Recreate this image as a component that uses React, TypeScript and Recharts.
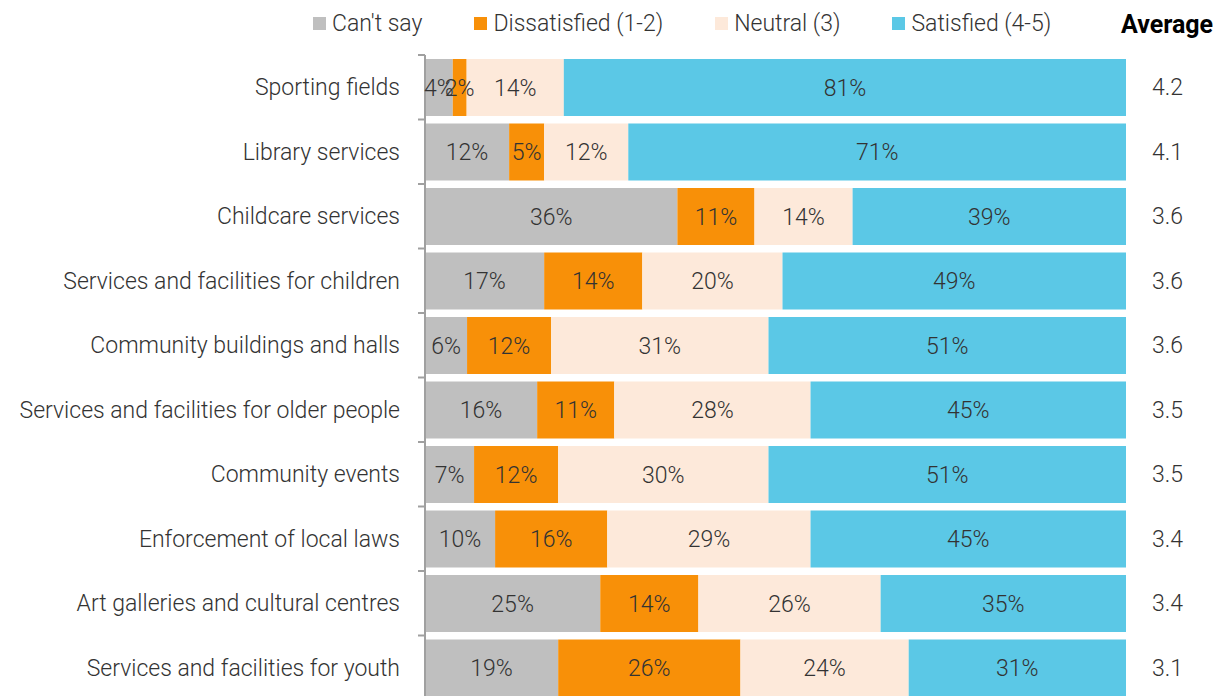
import React from 'react';
import { BarChart, Bar, XAxis, YAxis, LabelList } from 'recharts';

const categories = [
  'Sporting fields',
  'Library services',
  'Childcare services',
  'Services and facilities for children',
  'Community buildings and halls',
  'Services and facilities for older people',
  'Community events',
  'Enforcement of local laws',
  'Art galleries and cultural centres',
  'Services and facilities for youth',
];
const cantSay = [4, 12, 36, 17, 6, 16, 7, 10, 25, 19];
const dissatisfied = [2, 5, 11, 14, 12, 11, 12, 16, 14, 26];
const neutral = [14, 12, 14, 20, 31, 28, 30, 29, 26, 24];
const satisfied = [81, 71, 39, 49, 51, 45, 51, 45, 35, 31];
const averages = ['4.2', '4.1', '3.6', '3.6', '3.6', '3.5', '3.5', '3.4', '3.4', '3.1'];

const seriesNames = ["Can't say", 'Dissatisfied (1-2)', 'Neutral (3)', 'Satisfied (4-5)'];
const seriesKeys = ['cantSay', 'dissatisfied', 'neutral', 'satisfied'];
const seriesColors = ['#BFBFBF', '#F89008', '#FDE9DA', '#5BC8E6'];

const data = categories.map((name, i) => ({
  name,
  cantSay: cantSay[i],
  dissatisfied: dissatisfied[i],
  neutral: neutral[i],
  satisfied: satisfied[i],
  avg: averages[i],
}));

const FONT = "Roboto, 'DejaVu Sans', sans-serif";
const TEXT = '#333333';
const FS = 23;
const W = 1222;
const H = 700;
const TOP = 55;
const BAND = (H - TOP) / categories.length;

const LeftTick = (props: any) => {
  const { x, y, payload } = props;
  return (
    <g>
      <line x1={x + 18} x2={x + 25} y1={y - BAND / 2} y2={y - BAND / 2} stroke="#A0A0A0" strokeWidth={2} />
      <text x={x} y={y} dy="0.35em" textAnchor="end" fill={TEXT} fontSize={FS} fontWeight={300} fontFamily={FONT}>
        {payload.value}
      </text>
    </g>
  );
};

const RightTick = (props: any) => {
  const { x, y, index } = props;
  return (
    <text x={x} y={y} dy="0.35em" textAnchor="start" fill={TEXT} fontSize={FS} fontWeight={300} fontFamily={FONT}>
      {averages[index]}
    </text>
  );
};

export default function App() {
  return (
    <div style={{ position: 'absolute', left: 0, top: 0, width: W, height: 696, overflow: 'hidden', background: '#fff', fontFamily: FONT }}>
      <div style={{ position: 'absolute', left: 313, top: 9, display: 'flex', alignItems: 'center', height: 28 }}>
        {seriesNames.map((n, i) => (
          <div key={n} style={{ display: 'flex', alignItems: 'center', marginRight: 52 }}>
            <div style={{ width: 13, height: 13, background: seriesColors[i], marginRight: 6 }} />
            <span style={{ fontSize: FS, fontWeight: 300, color: TEXT, whiteSpace: 'nowrap' }}>{n}</span>
          </div>
        ))}
      </div>
      <div style={{ position: 'absolute', left: 1121, top: 10, fontSize: 25, fontWeight: 700, color: '#000' }}>Average</div>
      <div style={{ position: 'absolute', left: 0, top: 0 }}>
        <BarChart
          width={W}
          height={H}
          data={data}
          layout="vertical"
          stackOffset="expand"
          barCategoryGap={4}
          margin={{ top: TOP, right: 0, bottom: 0, left: 0 }}
        >
          <XAxis type="number" hide domain={[0, 1]} />
          <YAxis
            yAxisId="left"
            type="category"
            dataKey="name"
            width={425}
            tickSize={7}
            tickMargin={18}
            tickLine={false}
            axisLine={{ stroke: '#A0A0A0', strokeWidth: 2 }}
            tick={<LeftTick />}
            interval={0}
          />
          <YAxis
            yAxisId="right"
            orientation="right"
            type="category"
            dataKey="name"
            width={96}
            tickSize={0}
            tickMargin={26}
            tickLine={false}
            axisLine={false}
            tick={<RightTick />}
            interval={0}
          />
          {seriesKeys.map((k, i) => (
            <Bar key={k} dataKey={k} stackId="a" yAxisId="left" fill={seriesColors[i]} isAnimationActive={false}>
              <LabelList
                dataKey={k}
                position="center"
                formatter={(v: any) => `${v}%`}
                fill={TEXT}
                fontSize={FS}
                fontWeight={300}
                fontFamily={FONT}
              />
            </Bar>
          ))}
        </BarChart>
      </div>
    </div>
  );
}
